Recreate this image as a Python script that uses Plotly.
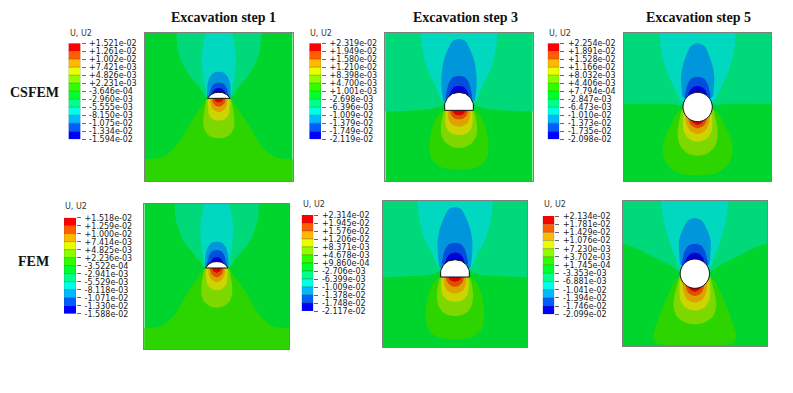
import plotly.graph_objects as go

# The page body keeps its default 8 px margin, so the figure is 785x385 and boxes are shifted by it.
W, H, PAGE_MARGIN = 785, 385, 8

TITLES = ["Excavation step 1", "Excavation step 3", "Excavation step 5"]
TITLE_X = [223, 465, 698.5]
ROW_NAMES = ["CSFEM", "FEM"]
ROW_X = [34, 33]
ROW_Y = [93, 261]

LEGEND_COLORS = ["#FF0000", "#FF5D00", "#FFB900", "#E8FF00", "#8BFF00", "#2EFF00",
                 "#00FF2E", "#00FF8B", "#00FFE8", "#00B9FF", "#005DFF", "#0000FF"]
FIELD_BG = "#00D52E"
LOWER_COLORS = ["#2DD500", "#7DD800", "#CCD500", "#E0A000", "#DD5000", "#D80000"]
UPPER_COLORS = ["#00D97A", "#00D8C0", "#0096DC", "#004EDC", "#0000D8"]

L1_LABELS = ["+1.521e-02", "+1.261e-02", "+1.002e-02", "+7.421e-03", "+4.826e-03", "+2.231e-03", "-3.646e-04",
             "-2.960e-03", "-5.555e-03", "-8.150e-03", "-1.075e-02", "-1.334e-02", "-1.594e-02"]
L2_LABELS = ["+2.319e-02", "+1.949e-02", "+1.580e-02", "+1.210e-02", "+8.398e-03", "+4.700e-03", "+1.001e-03",
             "-2.698e-03", "-6.396e-03", "-1.009e-02", "-1.379e-02", "-1.749e-02", "-2.119e-02"]
L3_LABELS = ["+2.254e-02", "+1.891e-02", "+1.528e-02", "+1.166e-02", "+8.032e-03", "+4.406e-03", "+7.794e-04",
             "-2.847e-03", "-6.473e-03", "-1.010e-02", "-1.373e-02", "-1.735e-02", "-2.098e-02"]
L4_LABELS = ["+1.518e-02", "+1.259e-02", "+1.000e-02", "+7.414e-03", "+4.825e-03", "+2.236e-03", "-3.522e-04",
             "-2.941e-03", "-5.529e-03", "-8.118e-03", "-1.071e-02", "-1.330e-02", "-1.588e-02"]
L5_LABELS = ["+2.314e-02", "+1.945e-02", "+1.576e-02", "+1.206e-02", "+8.371e-03", "+4.678e-03", "+9.860e-04",
             "-2.706e-03", "-6.399e-03", "-1.009e-02", "-1.378e-02", "-1.748e-02", "-2.117e-02"]
L6_LABELS = ["+2.134e-02", "+1.781e-02", "+1.429e-02", "+1.076e-02", "+7.230e-03", "+3.702e-03", "+1.745e-04",
             "-3.353e-03", "-6.881e-03", "-1.041e-02", "-1.394e-02", "-1.746e-02", "-2.099e-02"]

P1_LOWER = [
    [(0, 190), (34, 197), (56, 227), (86, 272), (126, 337), (166, 372), (221, 380), (300, 380), (300, 520), (0, 520)],
    [(0, 190), (34, 197), (42, 225), (46, 255), (46, 280), (38, 300), (22, 313), (0, 317)],
    [(0, 190), (31, 197), (32, 225), (30, 245), (18, 260), (0, 264)],
    [(0, 190), (24, 197), (22, 222), (12, 234), (0, 239)],
    [(0, 190), (19, 197), (17, 212), (8, 220), (0, 222)],
    [(0, 190), (13, 197), (11, 204), (5, 208), (0, 209)],
]
P1_UPPER = [
    [(0, -60), (140, -60), (128, 0), (121, 62), (96, 117), (56, 167), (34, 197), (0, 197)],
    [(0, -60), (32, -60), (40, 0), (50, 60), (51, 85), (48, 130), (40, 170), (34, 195), (0, 195)],
    [(0, 117), (15, 120), (27, 133), (34, 155), (35, 175), (34, 195), (0, 195)],
    [(0, 150), (14, 153), (23, 165), (27, 180), (30, 192), (0, 192)],
    [(0, 166), (10, 168), (17, 176), (20, 188), (0, 190)],
]
P1_HOLE = [(0, 179), (12, 180), (24, 186), (34, 197), (0, 197)]

P2_LOWER = [
    [(0, 220), (43, 233), (65, 250), (80, 285), (88, 330), (84, 375), (60, 400), (25, 410), (0, 411)],
    [(0, 220), (43, 233), (50, 255), (54, 280), (52, 310), (38, 332), (18, 343), (0, 346)],
    [(0, 220), (38, 233), (41, 260), (38, 285), (25, 300), (10, 306), (0, 307)],
    [(0, 220), (32, 233), (32, 255), (25, 272), (12, 280), (0, 282)],
    [(0, 220), (26, 233), (23, 248), (12, 258), (0, 260)],
    [(0, 220), (19, 233), (15, 242), (7, 247), (0, 248)],
]
P2_UPPER = [
    [(0, -60), (300, -60), (300, 237), (221, 236), (150, 234), (80, 228), (50, 218), (43, 215), (0, 215)],
    [(0, -60), (125, -60), (116, 0), (110, 50), (95, 110), (70, 160), (45, 210), (0, 210)],
    [(0, 19), (18, 24), (33, 50), (46, 85), (52, 125), (53, 150), (50, 185), (45, 205), (0, 205)],
    [(0, 130), (18, 134), (30, 150), (36, 172), (38, 195), (0, 195)],
    [(0, 160), (14, 163), (24, 175), (28, 190), (0, 190)],
]
P2_HOLE = [(0, 179), (20, 183), (35, 196), (43, 213), (43, 233), (0, 233)]

P3_LOWER = [
    [(0, 215), (44, 230), (60, 240), (80, 275), (98, 315), (105, 350), (95, 390), (60, 420), (25, 427), (0, 428)],
    [(0, 215), (44, 225), (52, 250), (58, 280), (60, 310), (52, 340), (30, 362), (0, 369)],
    [(0, 215), (42, 240), (44, 265), (42, 295), (30, 315), (12, 325), (0, 327)],
    [(0, 215), (35, 250), (33, 275), (22, 295), (0, 304)],
    [(0, 215), (27, 255), (22, 275), (10, 284), (0, 287)],
    [(0, 215), (18, 263), (12, 272), (0, 277)],
]
P3_UPPER = [
    [(0, -60), (300, -60), (300, 214), (221, 214), (80, 214), (48, 218), (0, 218)],
    [(0, -60), (124, -60), (115, 0), (110, 50), (95, 110), (70, 165), (45, 210), (0, 210)],
    [(0, 32), (20, 40), (35, 70), (46, 105), (50, 135), (48, 170), (43, 195), (0, 195)],
    [(0, 132), (18, 137), (30, 155), (36, 178), (38, 195), (0, 195)],
    [(0, 160), (14, 164), (24, 175), (28, 190), (0, 190)],
]
P3_HOLE = [(0, 179), (22, 185), (38, 201), (44, 223), (38, 245), (22, 261), (0, 267)]

P4_LOWER = [
    [(0, 185), (34, 192), (56, 220), (85, 262), (125, 330), (165, 365), (218, 373), (300, 373), (300, 520), (0, 520)],
    [(0, 185), (34, 192), (42, 218), (46, 248), (45, 275), (36, 295), (20, 307), (0, 311)],
    [(0, 185), (31, 192), (32, 218), (29, 240), (17, 254), (0, 258)],
    [(0, 185), (24, 192), (22, 216), (12, 230), (0, 235)],
    [(0, 185), (19, 192), (17, 208), (8, 217), (0, 220)],
    [(0, 185), (13, 192), (11, 200), (5, 204), (0, 206)],
]
P4_UPPER = [
    [(0, -60), (139, -60), (127, 0), (122, 50), (100, 110), (60, 160), (34, 192), (0, 192)],
    [(0, -60), (30, -60), (38, 0), (49, 60), (49, 80), (46, 125), (39, 165), (34, 190), (0, 190)],
    [(0, 113), (15, 116), (27, 130), (33, 150), (35, 170), (34, 190), (0, 190)],
    [(0, 138), (14, 142), (23, 155), (27, 172), (30, 186), (0, 186)],
    [(0, 160), (10, 162), (17, 170), (20, 182), (0, 184)],
]
P4_HOLE = [(0, 173), (12, 174), (24, 180), (34, 192), (0, 192)]

P5_LOWER = [
    [(0, 215), (43, 228), (65, 245), (80, 282), (88, 337), (82, 380), (58, 405), (25, 414), (0, 415)],
    [(0, 215), (43, 228), (50, 250), (54, 278), (51, 310), (38, 332), (18, 343), (0, 345)],
    [(0, 215), (38, 228), (41, 255), (38, 280), (25, 296), (10, 301), (0, 302)],
    [(0, 215), (32, 228), (32, 250), (25, 267), (12, 275), (0, 277)],
    [(0, 215), (26, 228), (23, 243), (12, 254), (0, 257)],
    [(0, 215), (19, 228), (15, 237), (7, 241), (0, 242)],
]
P5_UPPER = [
    [(0, -60), (300, -60), (300, 229), (217, 229), (150, 226), (80, 222), (48, 212), (43, 212), (0, 212)],
    [(0, -60), (122, -60), (114, 0), (108, 50), (93, 110), (68, 158), (45, 205), (0, 205)],
    [(0, 19), (18, 24), (33, 50), (46, 85), (52, 122), (52, 148), (49, 182), (45, 200), (0, 200)],
    [(0, 126), (18, 130), (30, 146), (36, 168), (38, 190), (0, 190)],
    [(0, 155), (14, 158), (24, 170), (28, 186), (0, 186)],
]
P5_HOLE = [(0, 176), (20, 180), (35, 192), (43, 209), (43, 228), (0, 228)]

P6_LOWER = [
    [(0, 215), (44, 225), (60, 240), (75, 270), (100, 330), (116, 372), (124, 405), (116, 425), (92, 431), (0, 432)],
    [(0, 215), (44, 225), (52, 250), (60, 280), (64, 315), (55, 345), (30, 364), (0, 370)],
    [(0, 215), (42, 235), (46, 265), (44, 295), (30, 318), (12, 327), (0, 329)],
    [(0, 215), (35, 245), (33, 275), (22, 296), (0, 305)],
    [(0, 215), (27, 252), (22, 272), (10, 282), (0, 285)],
    [(0, 215), (18, 258), (12, 267), (0, 272)],
]
P6_UPPER = [
    [(0, -60), (300, -60), (300, 110), (216, 128), (180, 140), (120, 170), (70, 195), (40, 215), (0, 215)],
    [(0, -60), (110, -60), (101, 0), (95, 50), (80, 110), (60, 165), (40, 210), (0, 210)],
    [(0, 51), (20, 58), (36, 85), (46, 112), (48, 130), (46, 165), (42, 192), (0, 192)],
    [(0, 129), (18, 133), (30, 150), (36, 172), (38, 192), (0, 192)],
    [(0, 155), (14, 159), (24, 170), (28, 186), (0, 186)],
]
P6_HOLE = [(0, 174), (22, 180), (38, 196), (44, 218), (38, 240), (22, 256), (0, 262)]

# panel box in window pixels: left, right, top, bottom
PANEL_BOXES = [(145, 292.7, 32.7, 181.3), (385.3, 532.7, 32.7, 181.3), (624, 771.3, 32.7, 181.3),
               (144.3, 289.3, 204, 349.3), (382.7, 527.3, 201, 347), (622.7, 767, 201, 346)]
MODEL_W = [443, 442, 442, 435, 434, 433]
MODEL_H = [446, 446, 446, 436, 438, 435]
PANEL_LOWER = [P1_LOWER, P2_LOWER, P3_LOWER, P4_LOWER, P5_LOWER, P6_LOWER]
PANEL_UPPER = [P1_UPPER, P2_UPPER, P3_UPPER, P4_UPPER, P5_UPPER, P6_UPPER]
PANEL_HOLE = [P1_HOLE, P2_HOLE, P3_HOLE, P4_HOLE, P5_HOLE, P6_HOLE]

# legend bar box in window pixels: left, right, top, bottom
LEGEND_BOXES = [(68.5, 80.5, 43.3, 139.3), (309.3, 321, 43.3, 139.3), (547.7, 559.3, 43.3, 139.3),
                (64, 76, 217.7, 313.7), (301.7, 313.3, 215, 311), (542.7, 554.3, 216, 314.3)]
LEGEND_LABELS = [L1_LABELS, L2_LABELS, L3_LABELS, L4_LABELS, L5_LABELS, L6_LABELS]
LEGEND_TITLE_Y = [33, 33, 33, 207, 204.7, 204.7]


def px(x):
    return (x - PAGE_MARGIN) / W


def py(y):
    return 1 - (y - PAGE_MARGIN) / H


def mirror(half):
    right = list(half)
    left = [(-x, y) for x, y in reversed(half) if x != 0]
    pts = right + left + [right[0]]
    return [p[0] for p in pts], [p[1] for p in pts]


def axes_for(n, box):
    l, r, t, b = box
    sx = "" if n == 1 else str(n)
    return sx, (px(l), px(r)), (py(b), py(t))


fig = go.Figure()
layout = {}
axis_n = 0
for i in range(6):
    axis_n += 1
    sx, dx, dy = axes_for(axis_n, PANEL_BOXES[i])
    hw, hh = MODEL_W[i] / 2, MODEL_H[i]
    layout[f"xaxis{sx}"] = dict(domain=dx, range=[-hw, hw], showticklabels=False, ticks="",
                                showgrid=False, zeroline=False, showline=True, mirror=True,
                                linecolor="#808080", linewidth=1, anchor=f"y{sx}")
    layout[f"yaxis{sx}"] = dict(domain=dy, range=[hh, 0], showticklabels=False, ticks="",
                                showgrid=False, zeroline=False, showline=True, mirror=True,
                                linecolor="#808080", linewidth=1, anchor=f"x{sx}")
    xa, ya = f"x{sx}", f"y{sx}"
    fig.add_trace(go.Scatter(x=[-hw, hw, hw, -hw, -hw], y=[0, 0, hh, hh, 0], mode="lines", fill="toself",
                             fillcolor=FIELD_BG, line=dict(width=0), xaxis=xa, yaxis=ya, hoverinfo="skip"))
    for half, col in list(zip(PANEL_UPPER[i], UPPER_COLORS)) + list(zip(PANEL_LOWER[i], LOWER_COLORS)):
        xs, ys = mirror(half)
        fig.add_trace(go.Scatter(x=xs, y=ys, mode="lines", fill="toself", fillcolor=col,
                                 line=dict(width=0, shape="spline", smoothing=0.8),
                                 xaxis=xa, yaxis=ya, hoverinfo="skip"))
    xs, ys = mirror(PANEL_HOLE[i])
    fig.add_trace(go.Scatter(x=xs, y=ys, mode="lines", fill="toself", fillcolor="#ffffff",
                             line=dict(width=1, color="#111111", shape="spline" if i in (2, 5) else "linear"),
                             xaxis=xa, yaxis=ya, hoverinfo="skip"))

for i in range(6):
    axis_n += 1
    sx, dx, dy = axes_for(axis_n, LEGEND_BOXES[i])
    labels = LEGEND_LABELS[i]
    layout[f"xaxis{sx}"] = dict(domain=dx, range=[-0.5, 0.5], showticklabels=False, ticks="", showgrid=False,
                                zeroline=False, showline=False, anchor=f"y{sx}")
    layout[f"yaxis{sx}"] = dict(domain=dy, range=[12, 0], side="right", tickmode="array",
                                tickvals=list(range(13)), ticktext=labels, ticks="outside", ticklen=4,
                                ticklabelstandoff=2, tickwidth=1, tickcolor="#666666", showgrid=False,
                                zeroline=False, showline=False,
                                tickfont=dict(family="DejaVu Sans", size=8, color="#1a1a1a"),
                                anchor=f"x{sx}", automargin=False)
    fig.add_trace(go.Bar(x=[0] * 12, y=[1] * 12, base=list(range(12)), width=1,
                         marker=dict(color=LEGEND_COLORS, line=dict(width=0.5, color="rgba(70,70,70,0.55)")),
                         xaxis=f"x{sx}", yaxis=f"y{sx}", hoverinfo="skip"))

annotations = []
for t, x in zip(TITLES, TITLE_X):
    annotations.append(dict(text=f"<b>{t}</b>", x=px(x), y=py(17.7), xref="paper", yref="paper",
                            xanchor="center", yanchor="middle", showarrow=False,
                            font=dict(family="Liberation Serif", size=14, color="#111111")))
for t, x, y in zip(ROW_NAMES, ROW_X, ROW_Y):
    annotations.append(dict(text=f"<b>{t}</b>", x=px(x), y=py(y), xref="paper", yref="paper",
                            xanchor="center", yanchor="middle", showarrow=False,
                            font=dict(family="Liberation Serif", size=14, color="#111111")))
for box, y in zip(LEGEND_BOXES, LEGEND_TITLE_Y):
    annotations.append(dict(text="U, U2", x=px(box[0]), y=py(y), xref="paper", yref="paper",
                            xanchor="left", yanchor="middle", showarrow=False, xshift=-1,
                            font=dict(family="DejaVu Sans", size=8, color="#333333")))

fig.update_layout(width=W, height=H, margin=dict(l=0, r=0, t=0, b=0), paper_bgcolor="white",
                  plot_bgcolor="white", showlegend=False, annotations=annotations, **layout)
fig.write_html("out.html")
